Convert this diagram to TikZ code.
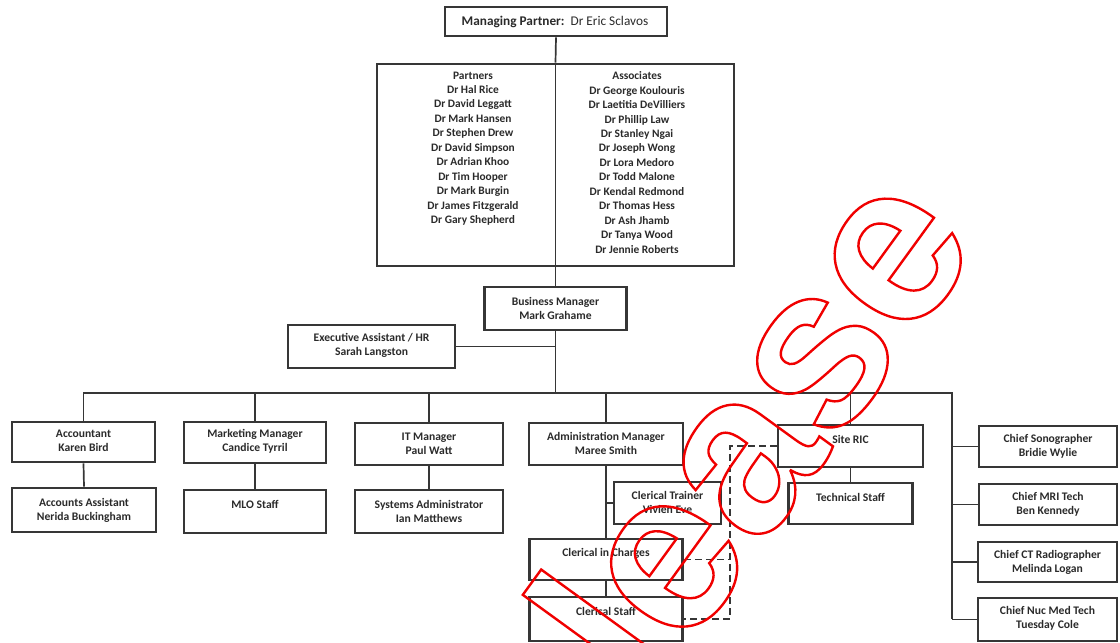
\documentclass[tikz,border=0pt]{standalone}
\usepackage{fontspec}
\setmainfont{Carlito}
\newfontfamily\wmfont{Liberation Sans}
\definecolor{linec}{HTML}{363636}
\definecolor{textc}{HTML}{2A2A2A}
\definecolor{wmred}{HTML}{F00000}
% stroke-only glyphs (text render mode 1)
\newcommand\outlinetext[2]{%
  \special{pdf:literal direct 1 Tr #1 w}#2\special{pdf:literal direct 0 Tr}}
\tikzset{
  orgbox/.style={draw=linec, line width=2.8pt, inner sep=0pt, fill=none},
  link/.style={draw=linec, line width=1.7pt},
  dashlink/.style={draw=linec, line width=1.7pt, dash pattern=on 7pt off 4pt},
  lbl/.style={inner sep=0pt, align=center, text=textc,
    font=\fontsize{11.6}{14}\selectfont\bfseries},
  namelist/.style={inner sep=0pt, align=center, text=textc,
    font=\fontsize{11.4}{14.45}\selectfont\bfseries},
}
\begin{document}
\begin{tikzpicture}[x=1pt, y=-1pt]
\useasboundingbox (0,0) rectangle (1120,643);
\clip (0,0) rectangle (1120,643);

% ---------- boxes ----------
\node[orgbox, minimum width=222pt, minimum height=29pt] (mp) at (556,21.5) {};
\node[orgbox, minimum width=357pt, minimum height=202pt] (grp) at (555.5,165) {};
\node[orgbox, minimum width=142pt, minimum height=43pt] (bm) at (555.5,308.5) {};
\node[orgbox, minimum width=167pt, minimum height=43pt] (ea) at (371.5,346.5) {};

\node[orgbox, minimum width=143pt, minimum height=40pt] (acc)  at (83.5,442) {};
\node[orgbox, minimum width=144pt, minimum height=44pt] (accA) at (84,510) {};
\node[orgbox, minimum width=142pt, minimum height=41pt] (mkt)  at (255,442.5) {};
\node[orgbox, minimum width=142pt, minimum height=43pt] (mlo)  at (255,511.5) {};
\node[orgbox, minimum width=148pt, minimum height=42pt] (it)   at (429,444) {};
\node[orgbox, minimum width=148pt, minimum height=43pt] (sys)  at (429,511.5) {};
\node[orgbox, minimum width=154pt, minimum height=42pt] (adm)  at (606,444) {};
\node[orgbox, minimum width=107pt, minimum height=42pt] (ct)   at (667.5,503) {};
\node[orgbox, minimum width=153pt, minimum height=41pt] (cic)  at (606,559.5) {};
\node[orgbox, minimum width=153pt, minimum height=44pt] (cs)   at (606,619) {};
\node[orgbox, minimum width=145pt, minimum height=42pt] (ric)  at (850.5,446) {};
\node[orgbox, minimum width=124pt, minimum height=41pt] (tech) at (850.5,503.5) {};
\node[orgbox, minimum width=138pt, minimum height=41pt] (sono) at (1048,446.5) {};
\node[orgbox, minimum width=138pt, minimum height=41pt] (mri)  at (1048,504.5) {};
\node[orgbox, minimum width=139pt, minimum height=40pt] (ctr)  at (1047.5,562) {};
\node[orgbox, minimum width=139pt, minimum height=43pt] (nuc)  at (1047.5,619.5) {};

% ---------- texts ----------
\node[lbl, font=\fontsize{13.3}{14}\selectfont] (mpT) at ([xshift=-1pt]mp.center)
  {\textbf{Managing Partner:}\ \ Dr Eric Sclavos};
\node[namelist, anchor=north] (partT) at (473,71.5)
  {Partners\\Dr Hal Rice\\Dr David Leggatt\\Dr Mark Hansen\\Dr Stephen Drew\\
   Dr David Simpson\\Dr Adrian Khoo\\Dr Tim Hooper\\Dr Mark Burgin\\
   Dr James Fitzgerald\\Dr Gary Shepherd};
\node[namelist, anchor=north] (assocT) at (637,71.5)
  {Associates\\Dr George Koulouris\\Dr Laetitia DeVilliers\\Dr Phillip Law\\
   Dr Stanley Ngai\\Dr Joseph Wong\\Dr Lora Medoro\\Dr Todd Malone\\
   Dr Kendal Redmond\\Dr Thomas Hess\\Dr Ash Jhamb\\Dr Tanya Wood\\
   Dr Jennie Roberts};
\node[lbl] (bmT) at ([yshift=0.5pt]bm.center) {Business Manager\\Mark Grahame};
\node[lbl] (eaT) at ([yshift=1.5pt]ea.center) {Executive Assistant / HR\\Sarah Langston};
\node[lbl] (accT) at ([yshift=1pt]acc.center) {Accountant\\Karen Bird};
\node[lbl] (accAT) at (accA.center) {Accounts Assistant\\Nerida Buckingham};
\node[lbl] (mktT) at ([yshift=1pt]mkt.center) {Marketing Manager\\Candice Tyrril};
\node[lbl] (mloT) at (255,504) {MLO Staff};
\node[lbl] (itT) at (it.center) {IT Manager\\Paul Watt};
\node[lbl] (sysT) at (sys.center) {Systems Administrator\\Ian Matthews};
\node[lbl] (admT) at ([yshift=1pt]adm.center) {Administration Manager\\Maree Smith};
\node[lbl] (ctT) at ([yshift=1pt]ct.center) {Clerical Trainer\\Vivien Eve};
\node[lbl] (cicT) at (606,553) {Clerical in Charges};
\node[lbl] (csT) at (606,611) {Clerical Staff};
\node[lbl] (ricT) at (850.5,439) {Site RIC};
\node[lbl] (techT) at (850.5,497) {Technical Staff};
\node[lbl] (sonoT) at (sono.center) {Chief Sonographer\\Bridie Wylie};
\node[lbl] (mriT) at (mri.center) {Chief MRI Tech\\Ben Kennedy};
\node[lbl] (ctrT) at (ctr.center) {Chief CT Radiographer\\Melinda Logan};
\node[lbl] (nucT) at ([yshift=1pt]nuc.center) {Chief Nuc Med Tech\\Tuesday Cole};

% ---------- connectors ----------
\coordinate (busL) at (83,393);
\coordinate (busR) at (952,393);
\coordinate (trunkB) at (952,619);
\coordinate (dashX) at (730,445);

\draw[link] (mp.south) -- (grp.north);
\draw[link] (grp.north) -- (grp.south);
\draw[link] (grp.south) -- (bm.north);
\draw[link] (bm.south) -- (bm.south |- busL);
\draw[link] (ea.east) -- (ea.east -| bm.south);
\draw[link] (busL) -- (busR) -- (trunkB);
\draw[link] (acc.north) -- (acc.north |- busL);
\draw[link] (mkt.north) -- (mkt.north |- busL);
\draw[link] (it.north) -- (it.north |- busL);
\draw[link] (adm.north) -- (adm.north |- busL);
\draw[link] (ric.north) -- (ric.north |- busL);
\draw[link] (acc.south) -- (accA.north);
\draw[link] (mkt.south) -- (mlo.north);
\draw[link] (it.south) -- (sys.north);
\draw[link] (adm.south) -- (cic.north);
\draw[link] (ct.west) -- (ct.west -| adm.south);
\draw[link] (cic.south) -- (cs.north);
\draw[link] (ric.south) -- (tech.north);
\draw[link] (sono.west) -- (sono.west -| busR);
\draw[link] (mri.west) -- (mri.west -| busR);
\draw[link] (ctr.west) -- (ctr.west -| busR);
\draw[link] (nuc.west) -- (nuc.west -| busR);

\draw[dashlink] (ric.west) -- (ric.west -| dashX) -- (cs.east -| dashX) -- (cs.east);
\draw[dashlink] (cic.east) -- (cic.east -| dashX);

% ---------- outlined stamp ----------
\node[inner sep=0pt, anchor=base west, rotate=54, text=wmred,
      font=\wmfont\bfseries\fontsize{228}{228}\selectfont] (stamp) at (647,705)
  {\outlinetext{2.4}{lease}};
\end{tikzpicture}
\end{document}
